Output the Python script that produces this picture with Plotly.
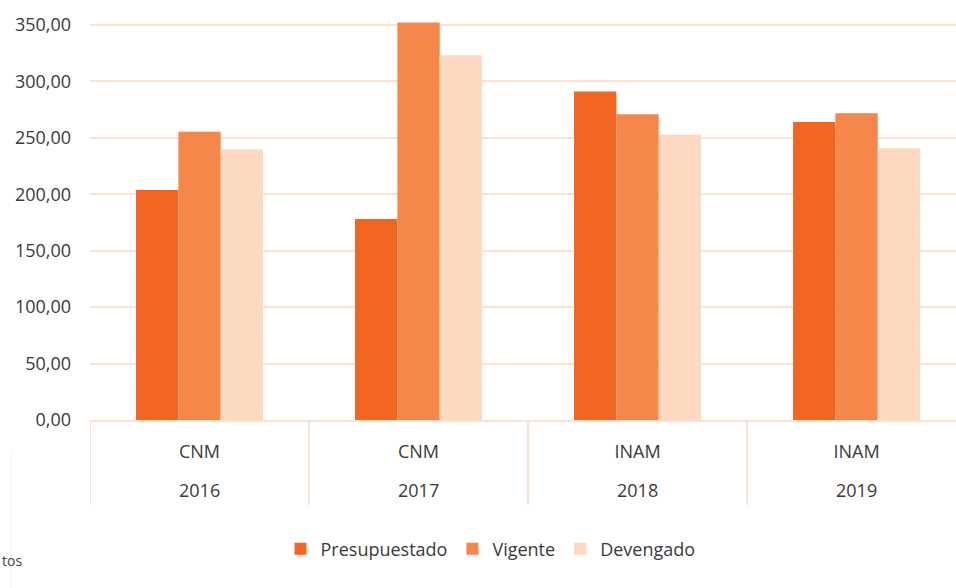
import plotly.graph_objects as go

# Data
years = ["2016", "2017", "2018", "2019"]
institutions = ["CNM", "CNM", "INAM", "INAM"]
presupuestado = [203.7, 178.0, 291.0, 264.1]
vigente = [255.5, 352.3, 270.9, 271.8]
devengado = [239.8, 323.3, 252.8, 240.7]
y_ticks = [0, 50, 100, 150, 200, 250, 300, 350]
y_ticktext = ["0,00", "50,00", "100,00", "150,00", "200,00", "250,00", "300,00", "350,00"]

series = [
    ("Presupuestado", presupuestado, "#F26522"),
    ("Vigente", vigente, "#F5874A"),
    ("Devengado", devengado, "#FCD9C0"),
]

FONT = "Open Sans, Noto Sans, sans-serif"
TEXT = "#3a3a3a"
PEACH = "#FDE0CD"
PLOT_H = 420  # plot area height in px (used to convert px offsets to paper units)

fig = go.Figure()
for name, vals, col in series:
    fig.add_trace(go.Bar(
        x=years, y=vals, name=name,
        marker=dict(color=col, line=dict(width=0)),
    ))

fig.update_layout(
    width=956, height=588,
    margin=dict(l=90, r=0, t=0, b=168, pad=0),
    paper_bgcolor="white", plot_bgcolor="white",
    barmode="group", bargap=0.42, bargroupgap=0,
    font=dict(family=FONT, size=18, color=TEXT),
    showlegend=True,
    legend=dict(
        orientation="h", x=0.22, xanchor="left", y=-0.263, yanchor="top",
        font=dict(family=FONT, size=18, color=TEXT),
        itemwidth=30, traceorder="normal",
        bgcolor="rgba(0,0,0,0)",
    ),
)

fig.update_yaxes(
    range=[0, 372.15],
    tickvals=y_ticks, ticktext=y_ticktext,
    showgrid=True, gridcolor=PEACH, gridwidth=2,
    zeroline=False, showline=False, ticks="",
    ticklabelstandoff=18,
    tickfont=dict(family=FONT, size=18, color=TEXT),
)

fig.update_xaxes(
    type="category",
    categoryorder="array", categoryarray=years,
    tickvals=years, ticktext=institutions,
    range=[-0.5, 3.454],
    showline=True, linecolor=PEACH, linewidth=2,
    ticks="", showgrid=False,
    ticklabelstandoff=14,
    tickfont=dict(family=FONT, size=18, color=TEXT),
)

# outer category level (years) below the institution labels
for i, yr in enumerate(years):
    fig.add_annotation(
        text=yr, xref="x", yref="paper", x=i, y=-(490 - PLOT_H) / PLOT_H,
        xanchor="center", yanchor="middle", showarrow=False,
        font=dict(family=FONT, size=18, color=TEXT),
    )

# category dividers
for i in range(len(years) + 1):
    fig.add_shape(
        type="line", xref="x", yref="paper",
        x0=i - 0.5, x1=i - 0.5, y0=0, y1=-(505 - PLOT_H) / PLOT_H,
        line=dict(color=PEACH, width=2),
    )

# cropped source note fragment at bottom-left
fig.add_annotation(
    text="tos", xref="paper", yref="paper",
    x=(0 - 90) / 866, y=(PLOT_H - 560) / PLOT_H,
    xanchor="left", yanchor="middle", showarrow=False,
    font=dict(family=FONT, size=14, color="#444444"),
)

# faint border line at the left edge (crop artifact)
fig.add_shape(
    type="line", xref="paper", yref="paper",
    x0=(11 - 90) / 866, x1=(11 - 90) / 866,
    y0=(PLOT_H - 452) / PLOT_H, y1=(PLOT_H - 588) / PLOT_H,
    line=dict(color="#F2F2F2", width=1),
)

fig.write_html("out.html")
